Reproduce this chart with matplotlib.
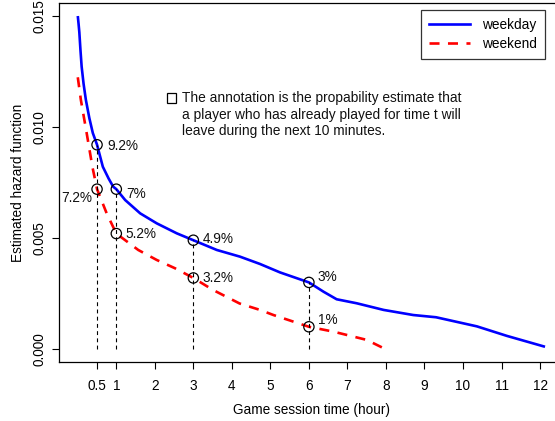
import matplotlib
matplotlib.use("Agg")
import matplotlib.pyplot as plt
from matplotlib.lines import Line2D
from matplotlib.patches import Rectangle

plt.rcParams['font.family'] = ['Liberation Sans', 'DejaVu Sans']

# weekday hazard curve
weekday_x = [0, 0.02, 0.04, 0.07, 0.1, 0.15, 0.21, 0.3, 0.39, 0.5, 0.65, 0.8, 0.92, 1, 1.23,
             1.62, 2.05, 2.57, 3, 3.61, 4.21, 4.73, 5.25, 6, 6.38, 6.72, 7.24, 7.94, 8.71,
             9.3, 10.36, 11.14, 12.13]
weekday_y = [0.0150, 0.01465, 0.01427, 0.01345, 0.01272, 0.01195, 0.01122, 0.01040, 0.00973,
             0.0092, 0.00821, 0.00768, 0.00731, 0.0072, 0.00671, 0.00611, 0.00566, 0.00521,
             0.0049, 0.00446, 0.00416, 0.00383, 0.00345, 0.0030, 0.00258, 0.00224, 0.00206,
             0.00176, 0.00153, 0.00143, 0.00102, 0.00059, 0.0001]
# weekend hazard curve
weekend_x = [0, 0.08, 0.23, 0.38, 0.5, 0.75, 1, 1.57, 2.05, 2.52, 3, 3.51, 4.2, 4.73, 5.08,
             6, 6.64, 7.5, 7.98]
weekend_y = [0.01224, 0.01122, 0.00973, 0.0082, 0.0072, 0.00611, 0.0052, 0.00446, 0.00401,
             0.00364, 0.0032, 0.00266, 0.00205, 0.00176, 0.00153, 0.0010, 0.00078, 0.00041, 0.0]

# annotated points
ann_x = [0.5, 0.5, 1, 1, 3, 3, 6, 6]
ann_y = [0.0092, 0.0072, 0.0072, 0.0052, 0.0049, 0.0032, 0.0030, 0.0010]
ann_labels = ["9.2%", "7.2%", "7%", "5.2%", "4.9%", "3.2%", "3%", "1%"]
# label offsets in pixels (dx, dy)
ann_offsets = [(10, -1), (-5, -9), (10, -5), (9, 0), (9, 1), (9, 0), (9, 5), (9, 7)]
ann_ha = ["left", "right", "left", "left", "left", "left", "left", "left"]

note_lines = ["The annotation is the propability estimate that",
              "a player who has already played for time t will",
              "leave during the next 10 minutes."]

xticks = [0.5, 1, 2, 3, 4, 5, 6, 7, 8, 9, 10, 11, 12]
xticklabels = ["0.5", "1", "2", "3", "4", "5", "6", "7", "8", "9", "10", "11", "12"]
yticks = [0.000, 0.005, 0.010, 0.015]
yticklabels = ["0.000", "0.005", "0.010", "0.015"]

fig = plt.figure(figsize=(5.55, 4.21), dpi=100)
ax = fig.add_axes([0.1065, 0.1394, 0.9092, 0.8542])

ax.plot(weekday_x, weekday_y, color='#0000ff', lw=1.9, solid_capstyle='butt')
ax.plot(weekend_x, weekend_y, color='#ff0000', lw=1.9, dashes=(3.8, 3.2))

# vertical dashed drop lines from the highest annotated point at each x
for xv in sorted(set(ann_x)):
    top = max(yv for xx, yv in zip(ann_x, ann_y) if xx == xv)
    ax.plot([xv, xv], [0, top], color='black', lw=0.8, dashes=(3.5, 3.0))

ax.scatter(ann_x, ann_y, s=55, facecolors='none', edgecolors='black', linewidths=0.9, zorder=5)
for xv, yv, lab, (dx, dy), ha in zip(ann_x, ann_y, ann_labels, ann_offsets, ann_ha):
    ax.annotate(lab, (xv, yv), xytext=(dx * 0.72, dy * 0.72), textcoords='offset points',
                ha=ha, va='center', fontsize=9.8, color='#111111')

ax.set_xlim(-0.485, 12.615)
ax.set_ylim(-0.0006, 0.0156)
ax.set_xticks(xticks)
ax.set_xticklabels(xticklabels, fontsize=9.8)
ax.set_yticks(yticks)
ax.set_yticklabels(yticklabels, fontsize=9.8, rotation=90, va='center')
ax.tick_params(axis='both', length=5, width=0.8)
ax.tick_params(axis='x', pad=7.0)
ax.tick_params(axis='y', pad=4.4)
for s in ax.spines.values():
    s.set_linewidth(0.9)
ax.set_xlabel("Game session time (hour)", fontsize=9.8, labelpad=7)
ax.set_ylabel("Estimated hazard function", fontsize=9.8, labelpad=5.4)

# annotation explanation: small open square followed by three text lines
ax.add_patch(Rectangle((0.2132, 0.7211), 0.0178, 0.0278, transform=ax.transAxes,
                       facecolor='none', edgecolor='black', lw=0.9))
for line, yl in zip(note_lines, [0.7342, 0.6877, 0.6440]):
    ax.text(0.2426, yl, line, transform=ax.transAxes, fontsize=9.9, va='center',
            ha='left', color='#111111')

handles = [Line2D([0], [0], color='#0000ff', lw=1.9),
           Line2D([0], [0], color='#ff0000', lw=1.9, dashes=(3.8, 3.2))]
leg = ax.legend(handles, ["weekday", "weekend"], loc='upper right',
                bbox_to_anchor=(0.9635, 0.9795), fontsize=9.8, frameon=True,
                fancybox=False, edgecolor='black', handlelength=3.0, handletextpad=0.9,
                borderpad=0.6, labelspacing=0.35, borderaxespad=0)
leg.get_frame().set_linewidth(0.9)

fig.savefig("out.png", dpi=100)
